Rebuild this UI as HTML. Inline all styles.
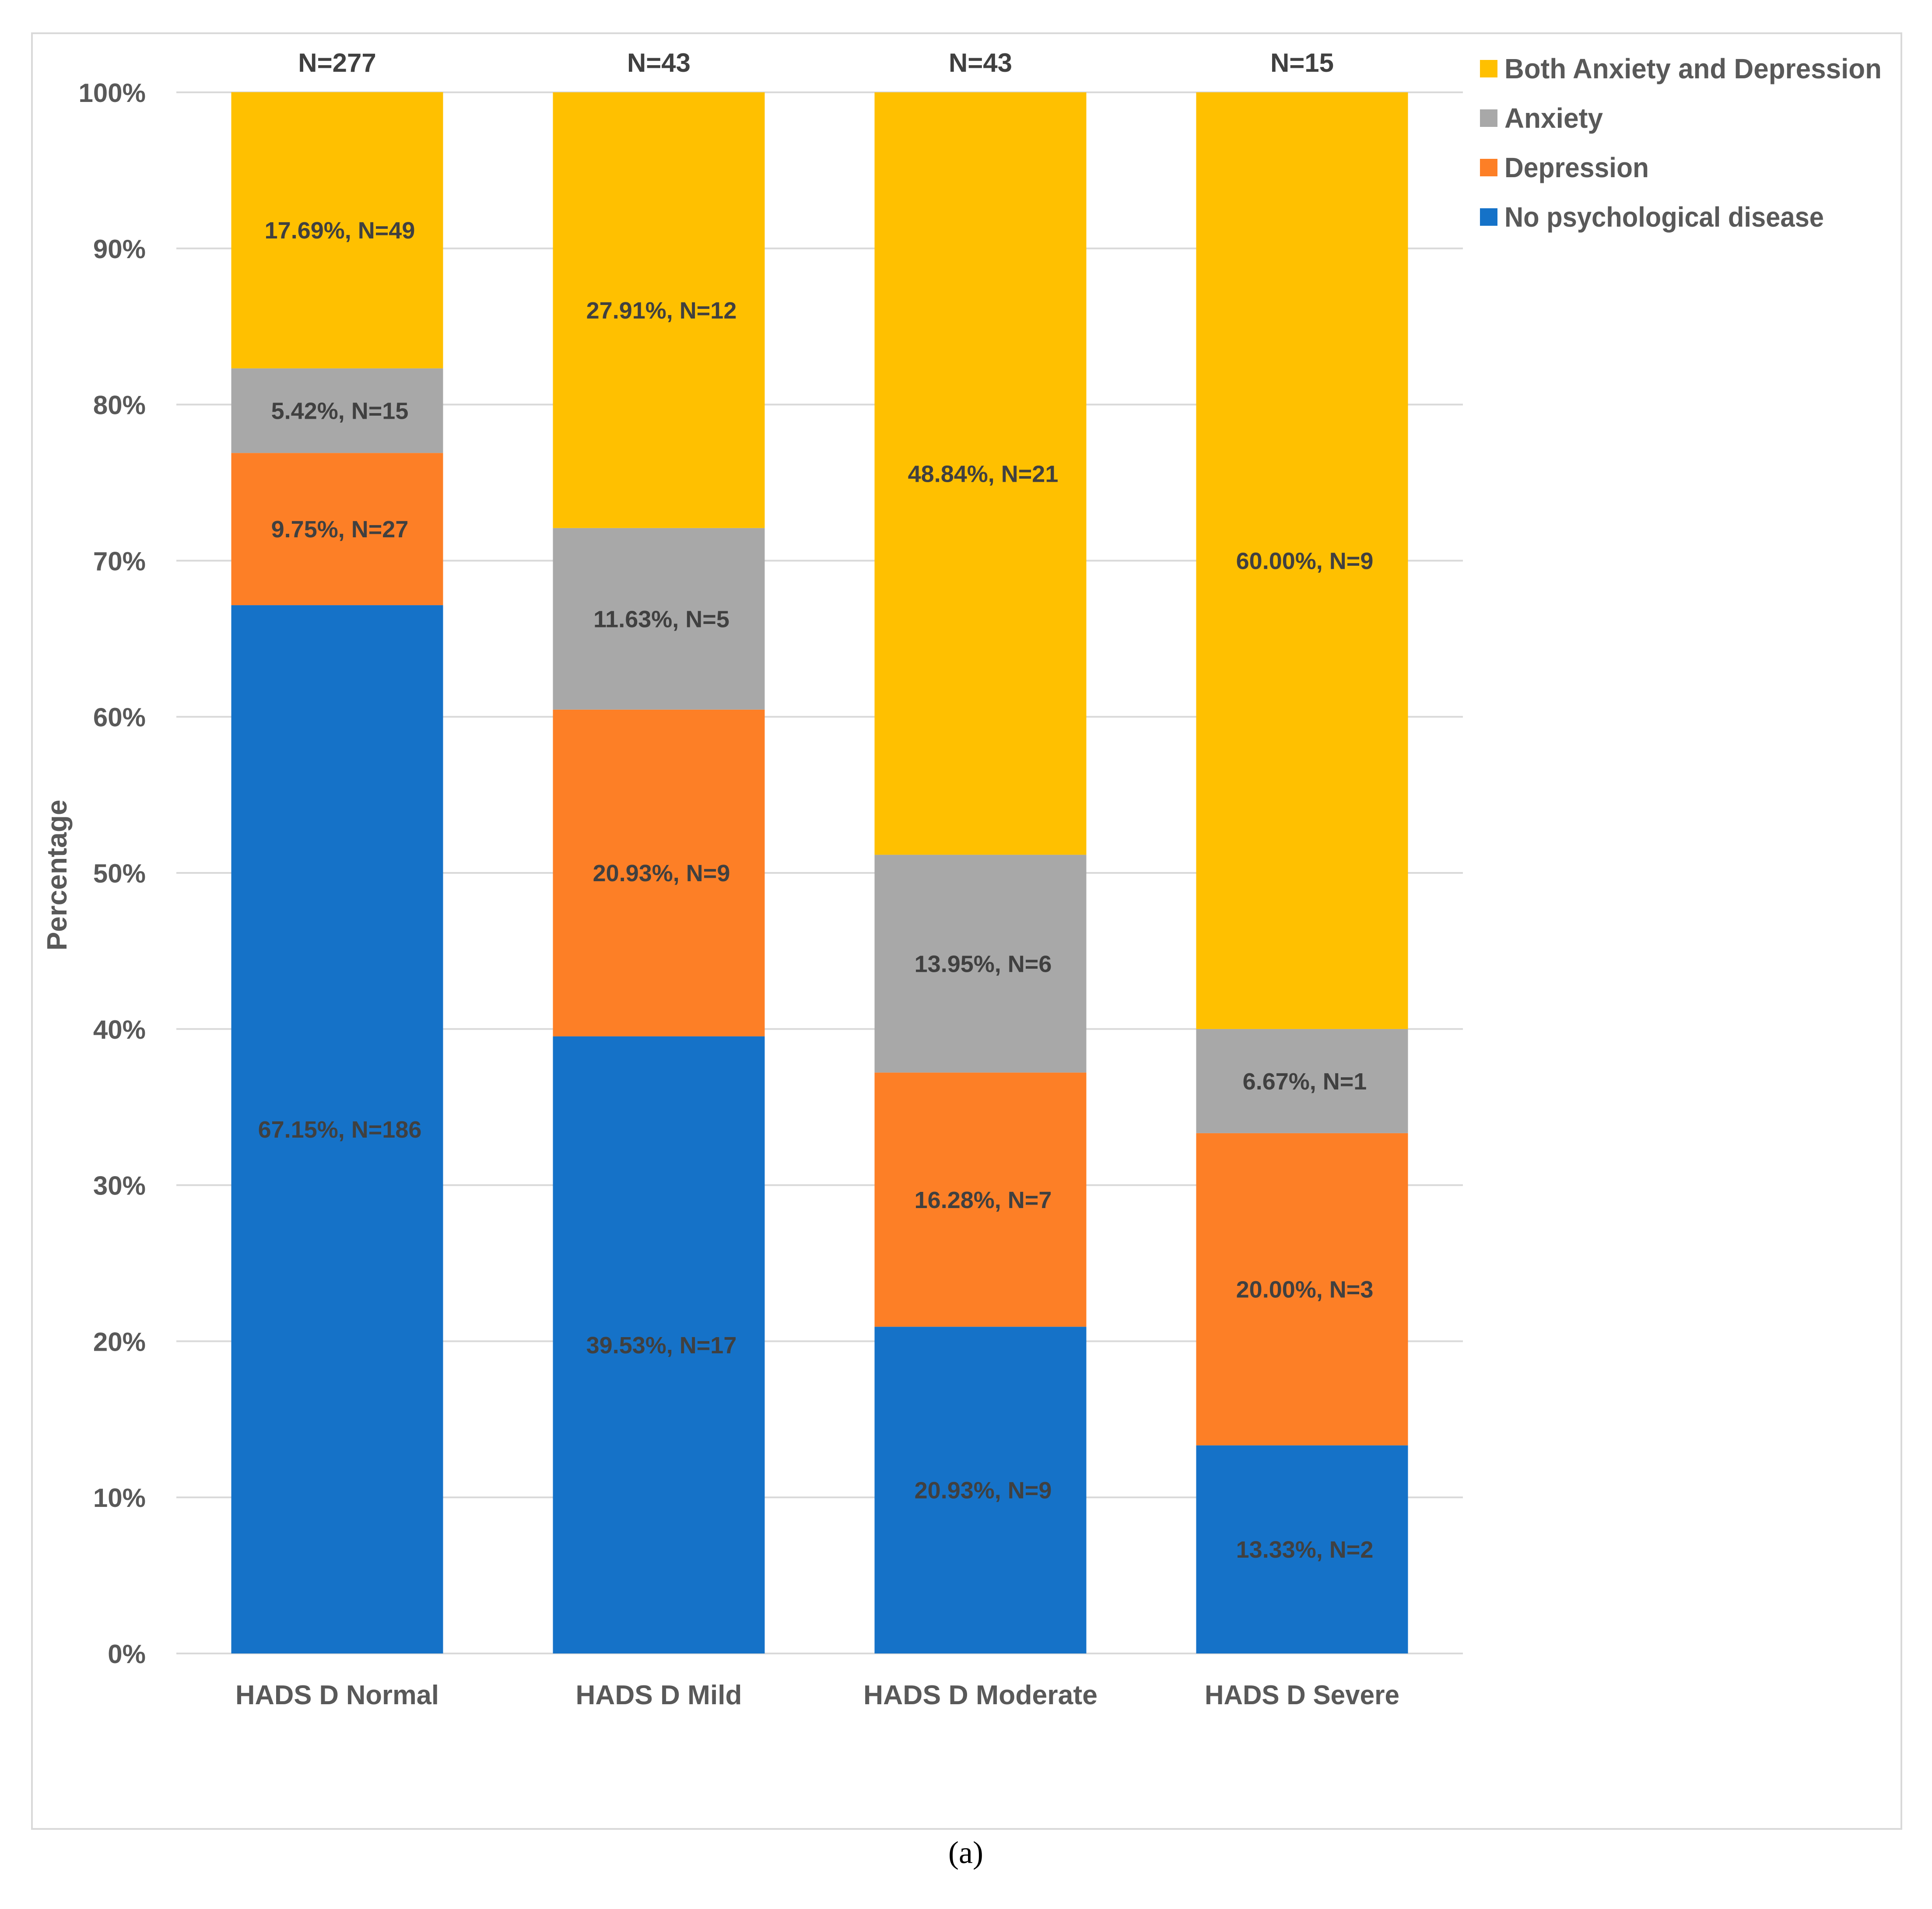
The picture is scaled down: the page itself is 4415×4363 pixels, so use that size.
<!DOCTYPE html>
<html><head><meta charset="utf-8"><style>
html,body{margin:0;padding:0;background:#fff;}
svg{display:block;}
text{font-family:"Liberation Sans",Arial,sans-serif;font-weight:bold;}
</style></head><body>
<svg id="chart" width="4415" height="4363" viewBox="0 0 4415 4363" xmlns="http://www.w3.org/2000/svg">
<rect x="73" y="76" width="4272" height="4104" fill="#fff" stroke="#d9d9d9" stroke-width="4"/>
<g id="grid"></g><g id="bars"></g><g id="labels"></g><g id="legend"></g>
<text transform="translate(152,2000) rotate(-90)" text-anchor="middle" font-size="64" fill="#595959">Percentage</text>
<text x="2207" y="4258" text-anchor="middle" font-size="72" style="font-family:'Liberation Serif',serif;font-weight:normal" fill="#000">(a)</text>
</svg>
<script>
const categories = ["HADS D Normal","HADS D Mild","HADS D Moderate","HADS D Severe"];
const totals = ["N=277","N=43","N=43","N=15"];
const seriesNames = ["No psychological disease","Depression","Anxiety","Both Anxiety and Depression"];
const noDisease = [67.15,39.53,20.93,13.33];
const depression = [9.75,20.93,16.28,20.00];
const anxiety = [5.42,11.63,13.95,6.67];
const both = [17.69,27.91,48.84,60.00];
const countsNo = [186,17,9,2];
const countsDep = [27,9,7,3];
const countsAnx = [15,5,6,1];
const countsBoth = [49,12,21,9];
const yTicks = [0,10,20,30,40,50,60,70,80,90,100];

const NS="http://www.w3.org/2000/svg";
const colors=["#1572C8","#FD7F26","#A8A8A8","#FFC000"];
const series=[noDisease,depression,anxiety,both];
const counts=[countsNo,countsDep,countsAnx,countsBoth];
const L=403,R=3343,T=211,B=3779;
const band=(R-L)/categories.length, bw=484;
const y=v=>B-(v/100)*(B-T);
const xc=i=>L+band*(i+0.5);
function mk(tag,attrs,parent,txt){const e=document.createElementNS(NS,tag);for(const k in attrs)e.setAttribute(k,attrs[k]);if(txt!==undefined)e.textContent=txt;parent.appendChild(e);return e;}
const grid=document.getElementById('grid'),bars=document.getElementById('bars'),labels=document.getElementById('labels'),legend=document.getElementById('legend');
yTicks.forEach(t=>{
  const l=mk('line',{x1:L,x2:R,y1:y(t),y2:y(t),stroke:'#d9d9d9','stroke-width':4},grid);
  
  
  const tx=mk('text',{x:L-70,y:y(t)+22,'text-anchor':'end','font-size':60,fill:'#595959'},grid,t+'%');
  
  
});
categories.forEach((c,i)=>{
  let acc=0;
  series.forEach((s,k)=>{
    const v=s[i];
    const r=mk('rect',{x:xc(i)-bw/2,y:y(acc+v),width:bw,height:y(acc)-y(acc+v),fill:colors[k]},bars);
    
    
    const t=mk('text',{x:xc(i)+6,y:(y(acc)+y(acc+v))/2+19,'text-anchor':'middle','font-size':54,fill:'#404040'},labels,v.toFixed(2)+'%, N='+counts[k][i]);
    
    
    acc+=v;
  });
  const n=mk('text',{x:xc(i),y:164,'text-anchor':'middle','font-size':60,fill:'#404040'},labels,totals[i]);
  
  
  const cl=mk('text',{x:xc(i),y:3895,'text-anchor':'middle','font-size':62,fill:'#595959',textLength:[465,380,535,445][i],lengthAdjust:'spacingAndGlyphs'},labels,c);
  
  
});
const legOrder=[3,2,1,0];
const legW=[862,225,330,730];
legOrder.forEach((k,j)=>{
  const yy=157+j*113;
  const sq=mk('rect',{x:3382,y:yy-20,width:40,height:40,fill:colors[k]},legend);
  
  
  const t=mk('text',{x:3438,y:yy+22,'font-size':64,fill:'#595959',textLength:legW[j],lengthAdjust:'spacingAndGlyphs'},legend,seriesNames[k]);
  
  
});
</script>
</body></html>
